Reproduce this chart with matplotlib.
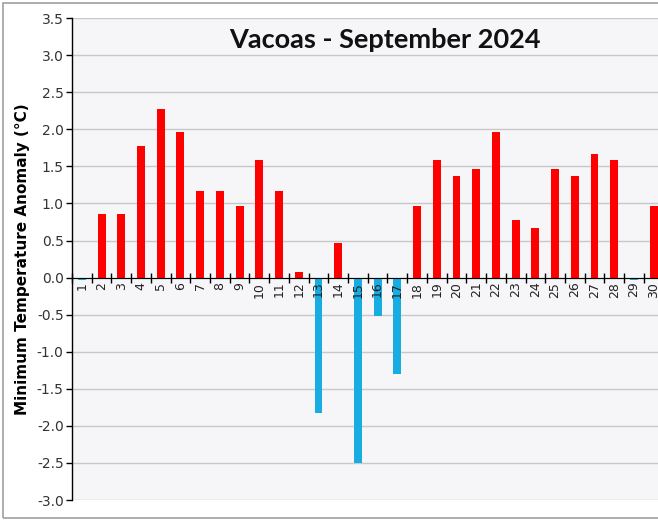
import matplotlib.pyplot as plt
from matplotlib.patches import Rectangle
from matplotlib.ticker import FixedLocator, MultipleLocator

days = list(range(1, 31))
anomaly = [-0.03, 0.86, 0.86, 1.77, 2.28, 1.97, 1.17, 1.17, 0.97, 1.58,
           1.17, 0.08, -1.82, 0.47, -2.50, -0.52, -1.30, 0.97, 1.58, 1.37,
           1.47, 1.97, 0.77, 0.67, 1.47, 1.37, 1.67, 1.58, -0.03, 0.97]
title = "Vacoas - September 2024"
ylabel = "Minimum Temperature Anomaly (°C)"

RED = "#ff0000"
BLUE = "#18ade2"

fig = plt.figure(figsize=(6.58, 5.21), dpi=100, facecolor="white")
fig.patches.append(Rectangle((0.005, 0.006), 1.2, 0.988, transform=fig.transFigure,
                             fill=False, edgecolor="#a0a0a0", linewidth=1.2))

ax = fig.add_axes([0.1094, 0.0403, 0.899, 0.925])
ax.set_facecolor("#f6f6f9")

colors = [RED if v >= 0 else BLUE for v in anomaly]
ax.bar(days, anomaly, width=0.4, color=colors, zorder=3)

ax.set_xlim(0.5, 30.5)
ax.set_ylim(-3.0, 3.5)
ax.yaxis.set_major_locator(MultipleLocator(0.5))
ax.yaxis.set_major_formatter(plt.FuncFormatter(lambda v, p: f"{v:.1f}"))
ax.grid(axis="y", color="#c8c8c8", linewidth=1.0, zorder=0)

for s in ("top", "right"):
    ax.spines[s].set_visible(False)
ax.spines["bottom"].set_position(("data", 0))
ax.spines["bottom"].set_zorder(4)
ax.spines["left"].set_linewidth(1.0)

ax.xaxis.set_major_locator(FixedLocator([d + 0.5 for d in range(0, 31)]))
ax.xaxis.set_major_formatter(plt.NullFormatter())
ax.set_xticks(days, [str(d) for d in days], minor=True)
ax.xaxis.set_zorder(5)
ax.tick_params(axis="x", which="major", direction="inout", length=7, width=1)
ax.tick_params(axis="x", which="minor", length=0, pad=3, labelsize=9,
               labelrotation=90, labelcolor="#222222")
ax.tick_params(axis="y", direction="out", length=4, width=1, labelsize=10,
               labelcolor="#333333", pad=2)

ax.set_ylabel(ylabel, fontsize=11, fontweight="bold", labelpad=5)

fig.text(0.585, 0.923, title, ha="center", va="center", fontsize=19.5,
         family="Lato", fontweight="bold", color="#111111")

fig.savefig("out.png", dpi=100, facecolor="white")
